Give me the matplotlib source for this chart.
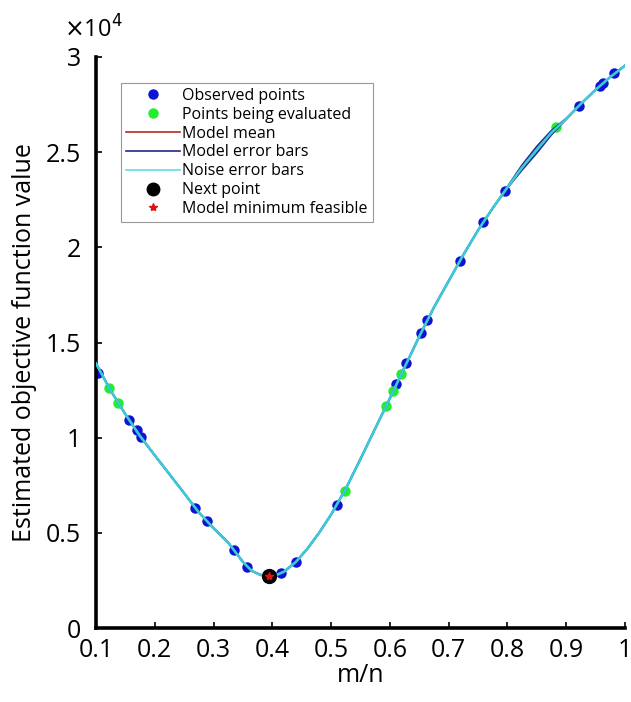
import matplotlib
matplotlib.use('Agg')
import matplotlib.pyplot as plt
from matplotlib.lines import Line2D

plt.rcParams['font.family'] = ['Open Sans', 'DejaVu Sans']

# observed points (blue)
obs_x = [0.103, 0.156, 0.169, 0.176, 0.269, 0.289, 0.335, 0.357, 0.415, 0.440,
         0.510, 0.611, 0.628, 0.653, 0.663, 0.719, 0.758, 0.795, 0.921, 0.958,
         0.963, 0.982]
obs_y = [13400, 10930, 10400, 10030, 6300, 5620, 4100, 3200, 2890, 3470,
         6460, 12800, 13920, 15500, 16180, 19280, 21330, 22960, 27430, 28480,
         28630, 29160]

# points being evaluated (green)
eval_x = [0.122, 0.137, 0.523, 0.594, 0.606, 0.619, 0.883]
eval_y = [12610, 11820, 7200, 11660, 12450, 13350, 26320]

# model mean curve
curve_x = [0.100, 0.125, 0.150, 0.175, 0.200, 0.225, 0.250, 0.275, 0.300, 0.325,
           0.350, 0.365, 0.380, 0.393, 0.405, 0.420, 0.440, 0.460, 0.480, 0.500,
           0.525, 0.550, 0.575, 0.600, 0.625, 0.650, 0.675, 0.700, 0.725, 0.750,
           0.775, 0.800, 0.825, 0.850, 0.875, 0.900, 0.925, 0.950, 0.975, 1.000]
curve_y = [13900, 12470, 11230, 10080, 9070, 8080, 7080, 6070, 5250, 4480,
           3470, 3000, 2790, 2730, 2760, 2960, 3470, 4180, 5020, 5960,
           7320, 8880, 10480, 12070, 13700, 15320, 16850, 18230, 19610, 20900,
           22060, 23150, 24200, 25130, 26030, 26750, 27540, 28280, 28950, 29550]
# half width of model error bars
model_err = [0, 0, 0, 0, 0, 0, 0, 0, 0, 0,
             0, 0, 0, 0, 0, 0, 0, 0, 0, 0,
             0, 0, 0, 0, 0, 0, 0, 0, 0, 0,
             0, 30, 130, 170, 110, 20, 0, 0, 0, 0]

next_x, next_y = 0.394, 2730
min_x, min_y = 0.394, 2730

fig = plt.figure(figsize=(6.31, 7.02), dpi=100)
ax = fig.add_axes([96 / 631, 1 - 628 / 702, 529 / 631, 571 / 702])

up = [m + e for m, e in zip(curve_y, model_err)]
lo = [m - e for m, e in zip(curve_y, model_err)]

ax.plot(obs_x, obs_y, 'o', color='#0a14d2', markersize=7.5, markeredgewidth=0, zorder=2)
ax.plot(eval_x, eval_y, 'o', color='#1ff02a', markersize=7.5, markeredgewidth=0, zorder=2)
ax.plot(curve_x, curve_y, color='#c0281e', lw=1.2, zorder=3)
ax.plot(curve_x, up, color='#1c2a8c', lw=1.3, zorder=3)
ax.plot(curve_x, lo, color='#1c2a8c', lw=1.3, zorder=3)
ax.plot(curve_x, curve_y, color='#3fc9d8', lw=1.9, zorder=4)
ax.plot(next_x, next_y, 'o', color='black', markersize=10, zorder=5)
ax.plot(min_x, min_y, '*', color='#e01010', markersize=6, zorder=6)

ax.set_xlim(0.1, 1.0)
ax.set_ylim(0, 30000)
ax.set_xticks([0.1, 0.2, 0.3, 0.4, 0.5, 0.6, 0.7, 0.8, 0.9, 1.0])
ax.set_xticklabels(['0.1', '0.2', '0.3', '0.4', '0.5', '0.6', '0.7', '0.8', '0.9', '1'])
ax.set_yticks([0, 5000, 10000, 15000, 20000, 25000, 30000])
ax.set_yticklabels(['0', '0.5', '1', '1.5', '2', '2.5', '3'])

for s in ['top', 'right']:
    ax.spines[s].set_visible(False)
for s in ['left', 'bottom']:
    ax.spines[s].set_linewidth(2.6)
ax.tick_params(direction='in', length=4, width=1.2, labelsize=18)
ax.tick_params(axis='x', pad=7)
ax.tick_params(axis='y', pad=11)

ax.set_xlabel('m/n', fontsize=18, labelpad=0)
ax.set_ylabel('Estimated objective function value', fontsize=18, labelpad=6)
fig.text(64 / 631, 1 - 30 / 702, r'$\times$10$^4$', fontsize=17, va='center', ha='left')

handles = [
    Line2D([], [], ls='none', marker='o', color='#0a14d2', markersize=7.5, markeredgewidth=0),
    Line2D([], [], ls='none', marker='o', color='#1ff02a', markersize=7.5, markeredgewidth=0),
    Line2D([], [], color='#b8281e', lw=1.2),
    Line2D([], [], color='#1c2a8c', lw=1.2),
    Line2D([], [], color='#5fdfe8', lw=1.2),
    Line2D([], [], ls='none', marker='o', color='black', markersize=9),
    Line2D([], [], ls='none', marker='*', color='#e01010', markersize=6),
]
labels = ['Observed points', 'Points being evaluated', 'Model mean', 'Model error bars',
          'Noise error bars', 'Next point', 'Model minimum feasible']
leg = fig.legend(handles, labels, loc='upper left', bbox_to_anchor=(121 / 631, 1 - 83 / 702),
                 fontsize=11.5, frameon=True, fancybox=False, edgecolor='#7f7f7f',
                 handlelength=3.4, handletextpad=0.15, labelspacing=0.18,
                 borderpad=0.3, borderaxespad=0)
leg.get_frame().set_linewidth(0.8)

fig.savefig('out.png', dpi=100)
